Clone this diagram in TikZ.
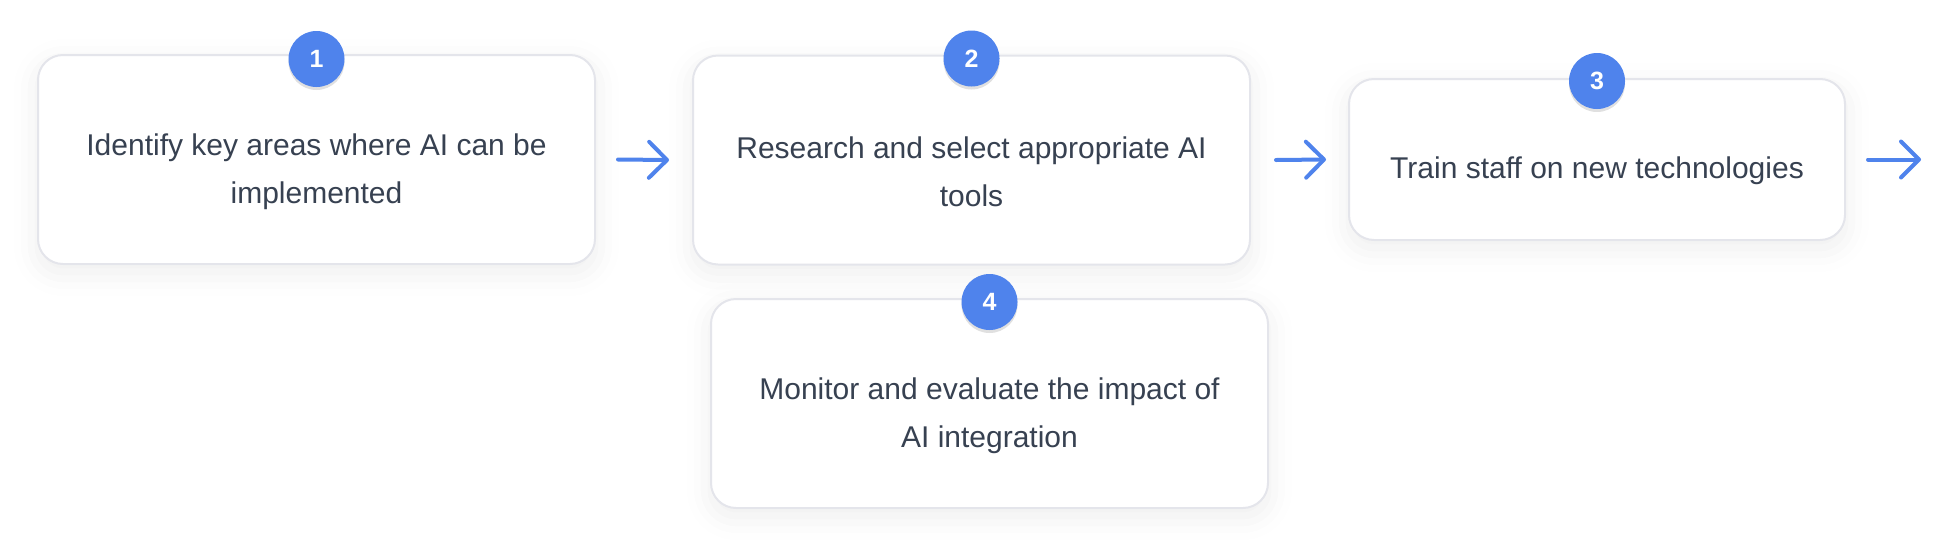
\documentclass[tikz,border=0pt]{standalone}
\usepackage{fontspec}
\setmainfont{Liberation Sans}
\usetikzlibrary{arrows.meta,shadows,shadows.blur,calc}
\definecolor{badgeblue}{RGB}{79,131,236}
\definecolor{textdark}{RGB}{55,65,81}
\definecolor{boxborder}{RGB}{228,229,235}
\begin{document}
\begin{tikzpicture}[x=0.5pt,y=-0.5pt,
  stepbox/.style={draw=boxborder,line width=1pt,fill=white,rounded corners=12.5pt,
    blur shadow={shadow xshift=0pt,shadow yshift=-4pt,shadow blur radius=12pt,shadow opacity=7},
    minimum width=278.5pt,minimum height=104.5pt,inner sep=0pt},
  steptext/.style={text=textdark,font=\fontsize{15pt}{24pt}\selectfont,align=center,inner sep=0pt},
  badge/.style={circle,fill=badgeblue,minimum size=28pt,inner sep=0pt,text=white,
    font=\fontsize{12.5pt}{14pt}\selectfont\bfseries,
    drop shadow={shadow xshift=0pt,shadow yshift=-1.5pt,opacity=0.12,fill=black}},
  flow/.style={draw=badgeblue,line width=2pt,line cap=round,
    -{Straight Barb[length=9pt,width=18pt,line width=2pt,round]}}
]
\useasboundingbox (0,0) rectangle (1958,558);
% boxes
\node[stepbox] (b1) at (316.5,159.5) {};
\node[stepbox] (b2) at (971.5,160) {};
\node[stepbox,minimum width=248pt,minimum height=80.5pt] (b3) at (1597,159.5) {};
\node[stepbox] (b4) at (989.5,403.5) {};
% texts
\node[steptext] (t1) at ($(b1.center)+(0,12)$) {Identify key areas where AI can be\\implemented};
\node[steptext] (t2) at ($(b2.center)+(0,12)$) {Research and select appropriate AI\\tools};
\node[steptext] (t3) at ($(b3.center)+(0,11)$) {Train staff on new technologies};
\node[steptext] (t4) at ($(b4.center)+(0,12)$) {Monitor and evaluate the impact of\\AI integration};
% badges
\node[badge] (n1) at ($(b1.north)+(0,5)$) {1};
\node[badge] (n2) at ($(b2.north)+(0,4)$) {2};
\node[badge] (n3) at ($(b3.north)+(0,3)$) {3};
\node[badge] (n4) at ($(b4.north)+(0,4)$) {4};
% arrows
\coordinate (a1s) at ($(b1.east)+(22,0)$);
\coordinate (a1e) at ($(b2.west)+(-23,0)$);
\coordinate (a2s) at ($(b2.east)+(25,0)$);
\coordinate (a2e) at ($(b3.west)+(-22,0)$);
\coordinate (a3s) at ($(b3.east)+(22,0)$);
\coordinate (a3e) at ($(b3.east)+(75,0)$);
\draw[flow] (a1s) -- (a1e);
\draw[flow] (a2s) -- (a2e);
\draw[flow] (a3s) -- (a3e);
\end{tikzpicture}
\end{document}
